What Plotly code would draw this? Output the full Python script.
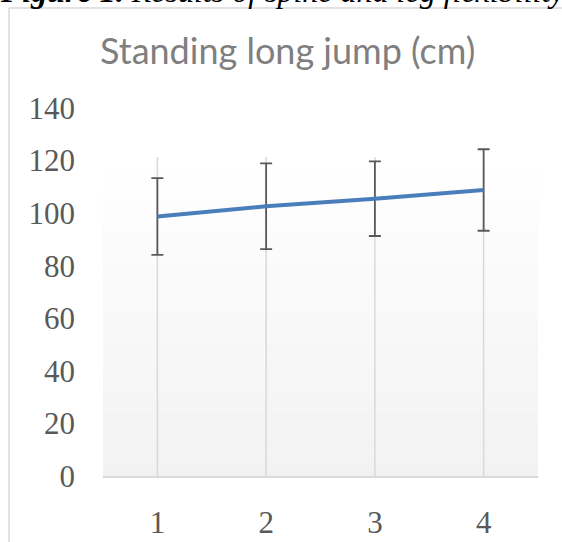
import plotly.graph_objects as go

# data
sessions = [1, 2, 3, 4]
jump_mean = [98.7, 102.6, 105.5, 108.8]
jump_sd = [14.6, 16.3, 14.2, 15.5]
y_ticks = [0, 20, 40, 60, 80, 100, 120, 140]

W, H = 562, 542
L, R, T, B = 103, 24, 108, 66
PW, PH = W - L - R, H - T - B


def px_x(p):
    return (p - L) / PW


def px_y(p):
    return (H - B - p) / PH


GRID = "#d9d9d9"
TXT = "#595959"
SERIF = "Liberation Serif, Times New Roman, serif"

fig = go.Figure()
fig.add_trace(go.Scatter(
    x=sessions, y=jump_mean, mode="lines",
    line=dict(color="#4a7ebb", width=4),
    error_y=dict(type="data", array=jump_sd, visible=True,
                 color=TXT, thickness=1.8, width=6),
    showlegend=False, hoverinfo="skip",
))

shapes = []
# plot area gradient, white at top to light grey at bottom
top_px, bot_px = 157, H - B
n = 24
for i in range(n):
    y0 = top_px + (bot_px - top_px) * i / n
    y1 = top_px + (bot_px - top_px) * (i + 1) / n
    c = round(255 - 13 * (i + 0.5) / n)
    shapes.append(dict(type="rect", xref="paper", yref="paper",
                       x0=0, x1=1, y0=px_y(y1), y1=px_y(y0),
                       fillcolor=f"rgb({c},{c},{c})", line_width=0, layer="below"))
# vertical gridlines at each category
for s in sessions:
    shapes.append(dict(type="line", xref="x", yref="paper", x0=s, x1=s,
                       y0=0, y1=px_y(top_px), line=dict(color=GRID, width=1.5),
                       layer="below"))
# keep the strip right of the plot clean
shapes.append(dict(type="rect", xref="paper", yref="paper",
                   x0=px_x(541), x1=px_x(W + 2), y0=px_y(H + 2), y1=px_y(9),
                   fillcolor="white", line_width=0, layer="above"))
# chart frame edges (left and top)
shapes.append(dict(type="line", xref="paper", yref="paper",
                   x0=px_x(9), x1=px_x(9), y0=px_y(8), y1=px_y(H),
                   line=dict(color=GRID, width=1.5)))
shapes.append(dict(type="line", xref="paper", yref="paper",
                   x0=px_x(9), x1=px_x(W), y0=px_y(8), y1=px_y(8),
                   line=dict(color=GRID, width=1.5)))

annotations = [
    dict(text="Standing long jump (cm)", xref="paper", yref="paper",
         x=px_x(287), y=px_y(50), xanchor="center", yanchor="middle",
         showarrow=False, font=dict(family="Lato, Carlito, sans-serif", size=36, color="#7f7f7f")),
    dict(text="<b><i>Figure 1.</i></b><i> Results of spine and leg flexibility</i>",
         xref="paper", yref="paper", x=px_x(-2), y=px_y(11),
         xanchor="left", yanchor="bottom", showarrow=False,
         font=dict(family=SERIF, size=32, color="black")),
]

fig.update_layout(
    width=W, height=H,
    margin=dict(l=L, r=R, t=T, b=B),
    paper_bgcolor="white", plot_bgcolor="rgba(0,0,0,0)",
    shapes=shapes, annotations=annotations,
    xaxis=dict(range=[0.5, 4.5], tickvals=sessions, showgrid=False, zeroline=False,
               showline=True, linecolor=GRID, linewidth=1.5, ticks="",
               ticklabelstandoff=18, automargin=False,
               tickfont=dict(family=SERIF, size=31, color=TXT)),
    yaxis=dict(range=[0, 140], tickvals=y_ticks, showgrid=False, zeroline=False,
               showline=False, ticks="", ticklabelstandoff=27, automargin=False,
               tickfont=dict(family=SERIF, size=31, color=TXT)),
)

fig.write_html("out.html", config={"displayModeBar": False},
               post_script="document.documentElement.style.overflow='hidden';"
                           "document.body.style.margin='0';document.body.style.overflow='hidden';")
